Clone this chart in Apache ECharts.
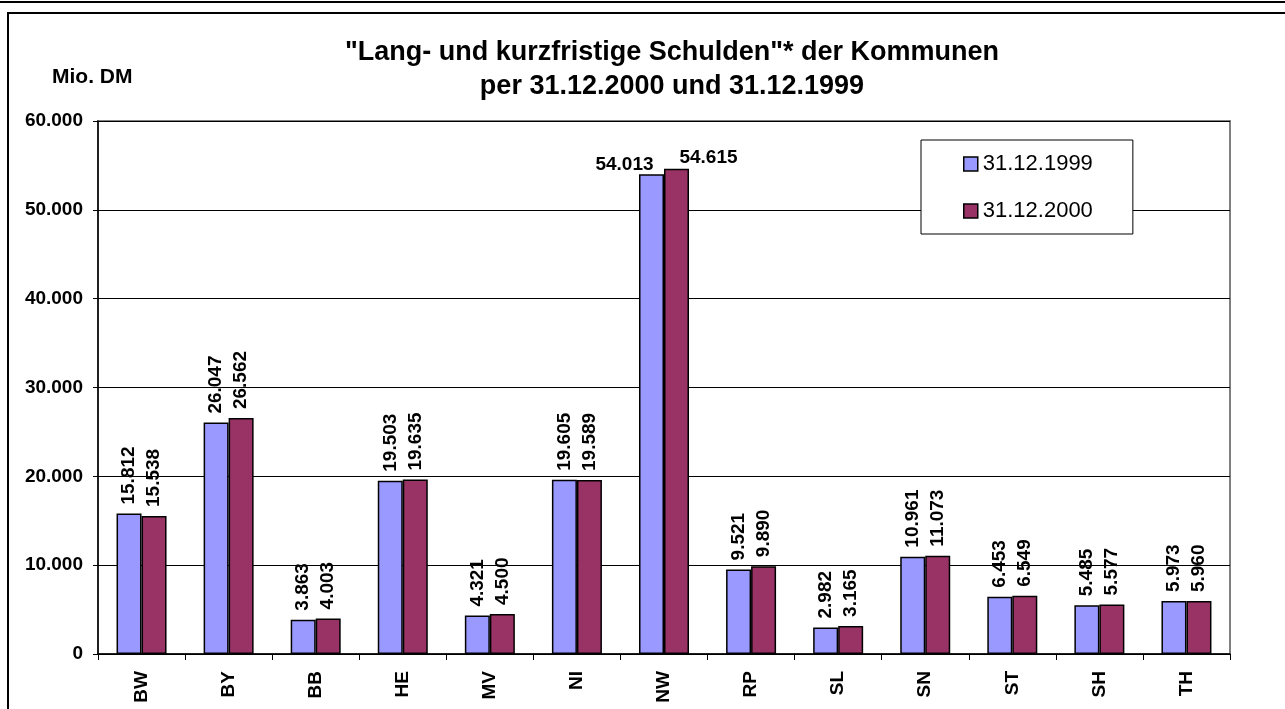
<!DOCTYPE html>
<html>
<head>
<meta charset="utf-8">
<script src="https://cdn.jsdelivr.net/npm/echarts@6/dist/echarts.min.js"></script>
<style>
html,body{margin:0;padding:0;background:#fff;}
#chart{width:1285px;height:709px;}
</style>
</head>
<body>
<div id="chart"></div>
<script>
const categories = ['BW','BY','BB','HE','MV','NI','NW','RP','SL','SN','ST','SH','TH'];
const values1999 = [15812, 26047, 3863, 19503, 4321, 19605, 54013, 9521, 2982, 10961, 6453, 5485, 5973];
const values2000 = [15538, 26562, 4003, 19635, 4500, 19589, 54615, 9890, 3165, 11073, 6549, 5577, 5960];
const seriesNames = ['31.12.1999', '31.12.2000'];
const titleLines = ['"Lang- und kurzfristige Schulden"* der Kommunen', 'per 31.12.2000 und 31.12.1999'];
const unitLabel = 'Mio. DM';

const FONT = '"Liberation Sans", Arial, sans-serif';
function fmt(v){ return String(v).replace(/\B(?=(\d{3})+(?!\d))/g, '.'); }

const chart = echarts.init(document.getElementById('chart'));
const rotLabel = {show:true, position:'top', rotate:90, align:'left', verticalAlign:'middle', distance:9,
  fontFamily:FONT, fontWeight:'bold', fontSize:19, color:'#000', formatter: p => fmt(p.value)};

function mkData(vals, idx){
  return vals.map((v,i) => {
    if (categories[i] === 'NW') {
      return {value:v, label:{show:true, rotate:0, position:'top', align:'center', verticalAlign:'middle',
        distance:0, offset: idx===0 ? [-27, -9] : [32, -11], fontFamily:FONT, fontWeight:'bold', fontSize:19, color:'#000',
        formatter: p => fmt(p.value)}};
    }
    return v;
  });
}

chart.setOption({
  animation:false,
  backgroundColor:'#fff',
  grid:{left:98, right:55, top:121, bottom:55, show:true, borderColor:'#808080', borderWidth:2, backgroundColor:'transparent'},
  title:{
    text: titleLines.join('\n'), left:667, textAlign:'center', top:31,
    textStyle:{fontFamily:FONT, fontWeight:'bold', fontSize:27, color:'#000', lineHeight:34}
  },
  graphic:[
    {type:'text', left:52, top:67, style:{text:unitLabel, font:'bold 21px '+FONT, fill:'#000'}},
    {type:'rect', shape:{x:8, y:13, width:1300, height:720}, style:{fill:'none', stroke:'#000', lineWidth:2}, z:-1},
    {type:'line', shape:{x1:0, y1:2, x2:1285, y2:2}, style:{stroke:'#000', lineWidth:2}}
  ],
  legend:{
    data: seriesNames, orient:'vertical', left:921, top:140,
    padding:[13, 40, 12, 42], itemGap:25, itemWidth:14, itemHeight:14, borderColor:'#000', borderWidth:1,
    backgroundColor:'#fff', icon:'rect',
    itemStyle:{borderColor:'#000', borderWidth:1.5},
    textStyle:{fontFamily:FONT, fontSize:22, color:'#000', padding:[0,0,0,0]}
  },
  xAxis:{
    type:'category', data:categories,
    axisLine:{lineStyle:{color:'#000', width:1.5}},
    axisTick:{show:true, length:6, lineStyle:{color:'#000'}},
    axisLabel:{rotate:90, margin:17, fontFamily:FONT, fontWeight:'bold', fontSize:19, color:'#000'}
  },
  yAxis:{
    type:'value', min:0, max:60000, interval:10000,
    axisLine:{show:true, lineStyle:{color:'#000', width:1.5}},
    axisTick:{show:true, length:5, lineStyle:{color:'#000'}},
    splitLine:{lineStyle:{color:'#000', width:1}},
    axisLabel:{margin:15, fontFamily:FONT, fontWeight:'bold', fontSize:19, color:'#000', formatter: v => fmt(v)}
  },
  series:[
    {name:seriesNames[0], type:'bar', data:mkData(values1999,0), barWidth:25, barGap:'0%',
      itemStyle:{color:'#9999FF', borderColor:'#000', borderWidth:1.5}, label:rotLabel},
    {name:seriesNames[1], type:'bar', data:mkData(values2000,1), barWidth:25,
      itemStyle:{color:'#993366', borderColor:'#000', borderWidth:1.5}, label:rotLabel}
  ]
});
</script>
</body>
</html>
